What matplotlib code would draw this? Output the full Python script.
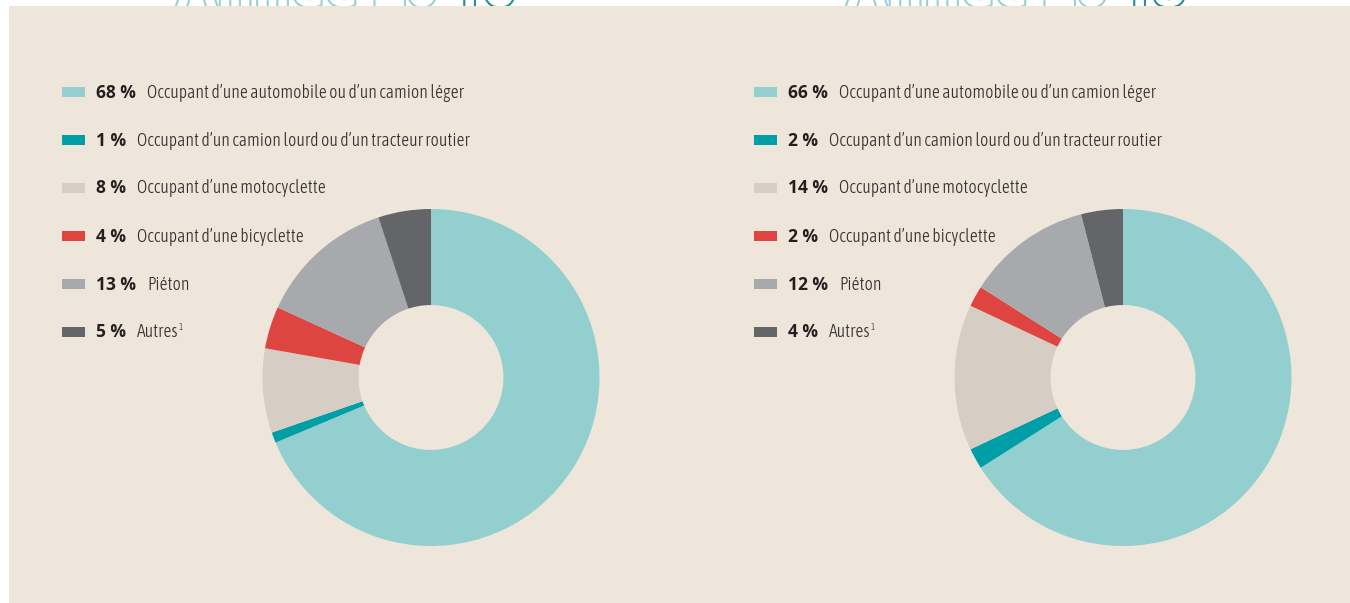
import matplotlib
matplotlib.use("Agg")
import matplotlib.pyplot as plt
import matplotlib.patheffects as pe
from matplotlib.patches import Rectangle

W, H = 1350, 603

categories = [
    "Occupant d\u2019une automobile ou d\u2019un camion léger",
    "Occupant d\u2019un camion lourd ou d\u2019un tracteur routier",
    "Occupant d\u2019une motocyclette",
    "Occupant d\u2019une bicyclette",
    "Piéton",
    "Autres",
]
valeurs_gauche = [68, 1, 8, 4, 13, 5]
valeurs_droite = [66, 2, 14, 2, 12, 4]
titres = ["Année 20", "Année 20"]
titres_fin = ["16", "18"]

couleurs = ["#93cfcf", "#009ea6", "#d6cec5", "#df4540", "#a8a9ac", "#646568"]
fond = "#eee6da"

police_pct = ["Open Sans", "Noto Sans", "DejaVu Sans"]
police_lab = ["Asap Condensed", "Barlow Semi Condensed", "DejaVu Sans"]

fig = plt.figure(figsize=(W / 100, H / 100), dpi=100, facecolor="white")

# panneau beige
fig.patches.append(Rectangle((9 / W, 0), 1, 1 - 6 / H, transform=fig.transFigure,
                             facecolor=fond, edgecolor="none", zorder=1))

# titres coupés en haut
contour_clair = [pe.withStroke(linewidth=3, foreground="#9acfd4")]
contour_fonce = [pe.withStroke(linewidth=3, foreground="#2b8a99")]
renderer = fig.canvas.get_renderer()
for x0, t, fin in zip([177, 847], titres, titres_fin):
    t1 = fig.text(x0 / W, 1 - 6 / H, t, fontsize=41, fontweight="bold",
                  family=police_pct, color="white", va="baseline",
                  path_effects=contour_clair, zorder=0.5)
    bb = t1.get_window_extent(renderer)
    fig.text((bb.x1 + 12) / W, 1 - 6 / H, fin, fontsize=41, fontweight="bold",
             family=police_pct, color="white", va="baseline",
             path_effects=contour_fonce, zorder=0.5)


def legende(x_carre, valeurs):
    for i, (lab, v, c) in enumerate(zip(categories, valeurs, couleurs)):
        yc = 92 + i * 48
        fig.patches.append(Rectangle((x_carre / W, 1 - (yc + 5) / H), 23 / W, 10 / H,
                                     transform=fig.transFigure, facecolor=c,
                                     edgecolor="none", zorder=2))
        tp = fig.text((x_carre + 34) / W, 1 - (yc + 5.5) / H, f"{v} %", fontsize=12.5,
                      fontweight="bold", family=police_pct, color="#231f20",
                      va="baseline", zorder=3)
        bb = tp.get_window_extent(renderer)
        tl = fig.text((bb.x1 + 11) / W, 1 - (yc + 5.5) / H, lab, fontsize=12.7,
                      fontweight=300, family=police_lab, color="#333333",
                      va="baseline", zorder=3)
        if lab == "Autres":
            bl = tl.get_window_extent(renderer)
            fig.text((bl.x1 + 0.5) / W, 1 - (yc - 4) / H, "1", fontsize=6.5,
                     fontweight=300, family=police_lab, color="#333333",
                     va="center", zorder=3)


def donut(cx, cy, r, valeurs):
    ax = fig.add_axes([(cx - r) / W, 1 - (cy + r) / H, 2 * r / W, 2 * r / H])
    ax.set_zorder(2)
    ax.patch.set_visible(False)
    ax.pie(valeurs, colors=couleurs, startangle=90, counterclock=False,
           radius=1, wedgeprops=dict(width=0.57, edgecolor="none"))
    ax.set_xlim(-1, 1)
    ax.set_ylim(-1, 1)
    ax.set_aspect("equal")
    ax.axis("off")


legende(62, valeurs_gauche)
legende(754, valeurs_droite)
donut(431, 377.5, 168.5, valeurs_gauche)
donut(1123, 377.5, 168.5, valeurs_droite)

fig.savefig("out.png", dpi=100, facecolor="white")
